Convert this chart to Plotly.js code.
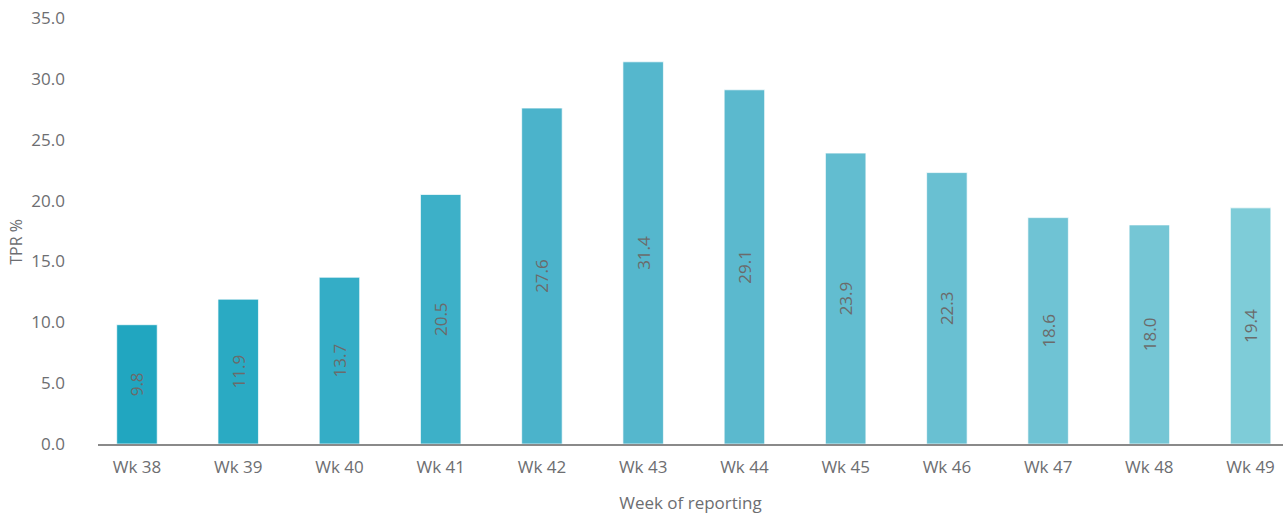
<!DOCTYPE html>
<html>
<head>
<meta charset="utf-8">
<script src="https://cdn.plot.ly/plotly-3.0.1.min.js"></script>
<style>html,body{margin:0;padding:0;background:#fff;}#chart{width:1283px;height:516px;}</style>
</head>
<body>
<div id="chart"></div>
<script>
const weeks = ["Wk 38","Wk 39","Wk 40","Wk 41","Wk 42","Wk 43","Wk 44","Wk 45","Wk 46","Wk 47","Wk 48","Wk 49"];
const tpr = [9.8, 11.9, 13.7, 20.5, 27.6, 31.4, 29.1, 23.9, 22.3, 18.6, 18.0, 19.4];
const barColors = ["#21A6C0","#2AAAC3","#34ADC6","#3DB0C8","#4BB3CB","#55B7CD","#5BB9CE","#62BDD0","#69C0D2","#6FC3D4","#75C6D5","#7ECCD8"];
const labels = tpr.map(v => v.toFixed(1));

const font = "'Open Sans', 'Noto Sans', sans-serif";
const grey = "#6d6e71";

Plotly.newPlot("chart", [{
  type: "bar",
  x: weeks,
  y: tpr,
  text: labels,
  textposition: "inside",
  insidetextanchor: "middle",
  textangle: -90,
  constraintext: "none",
  textfont: {family: font, size: 17, color: "#6b6b6b"},
  marker: {color: barColors, line: {color: "rgba(255,255,255,0.7)", width: 1}},
  width: 0.4,
  hoverinfo: "none"
}], {
  width: 1283, height: 516,
  margin: {l: 98, r: 0, t: 18, b: 72},
  paper_bgcolor: "#fff", plot_bgcolor: "#fff",
  showlegend: false,
  font: {family: font, color: grey, size: 17},
  xaxis: {
    range: [-0.385, 11.32],
    showline: true, linecolor: "#8a8a8a", linewidth: 1.5,
    ticks: "", showgrid: false, zeroline: false,
    tickfont: {size: 17, color: grey},
    ticklabelstandoff: 7,
    title: {text: "Week of reporting", font: {size: 17, color: grey}, standoff: 20},
    automargin: false, fixedrange: true
  },
  yaxis: {
    range: [0, 35], dtick: 5, tick0: 0,
    tickformat: ".1f",
    showline: false, showgrid: false, zeroline: false, ticks: "",
    tickfont: {size: 17, color: grey},
    ticklabelstandoff: 32,
    automargin: false, fixedrange: true
  },
  annotations: [{
    text: "TPR %", xref: "paper", yref: "paper",
    x: -0.0695, y: 0.474, xanchor: "center", yanchor: "middle",
    textangle: -90, showarrow: false,
    font: {family: font, size: 16, color: grey}
  }]
}, {staticPlot: true});
</script>
</body>
</html>
